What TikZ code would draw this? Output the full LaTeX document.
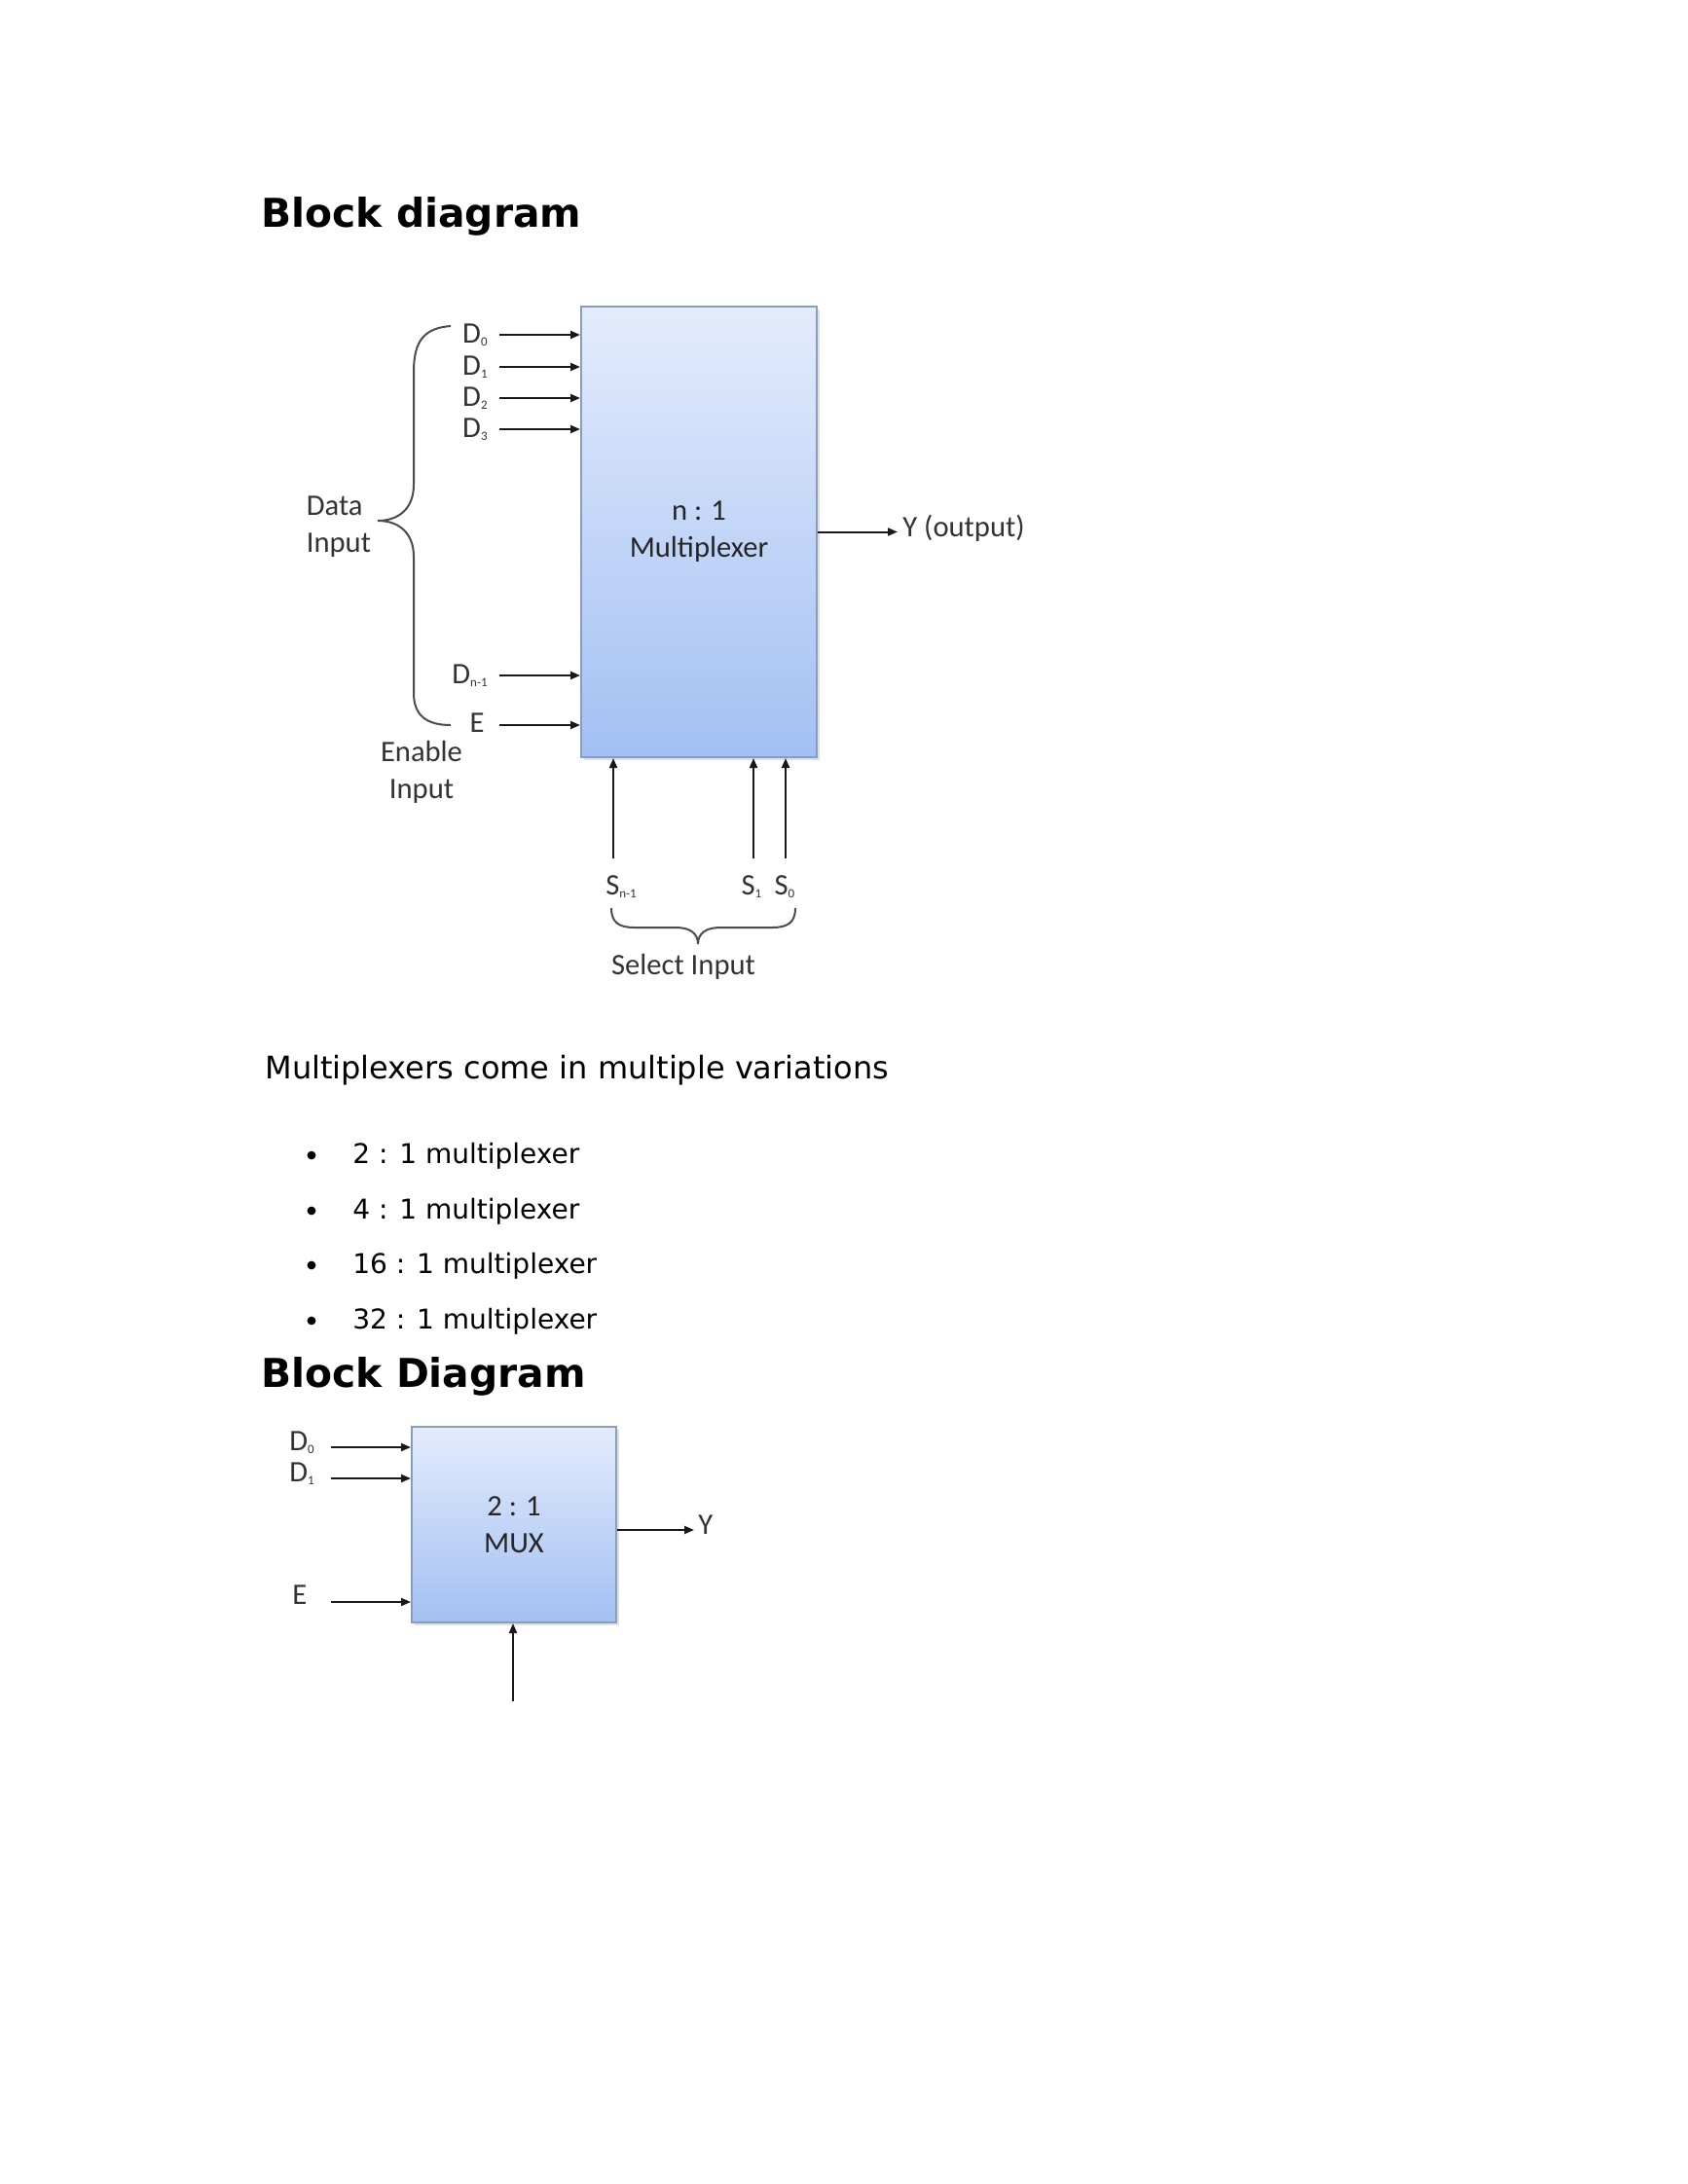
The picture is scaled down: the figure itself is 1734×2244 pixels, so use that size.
\documentclass[tikz,border=0pt]{standalone}
\usepackage{fontspec}
\setmainfont{DejaVu Sans}
\newfontfamily\lblfont{Carlito}
\usetikzlibrary{arrows.meta}
\definecolor{boxtop}{HTML}{E3ECFC}
\definecolor{boxbot}{HTML}{A3C0F3}
\definecolor{boxline}{HTML}{8A9DBD}
\definecolor{lblcol}{HTML}{333333}
\newcommand{\sbs}[1]{\raisebox{-1.5pt}{\fontsize{6.5}{7}\selectfont #1}}
\tikzset{
 mux/.style={draw=boxline, line width=1pt, top color=boxtop, bottom color=boxbot, inner sep=0pt, align=center,
   font=\lblfont\fontsize{15.3}{19}\selectfont, text=black!85},
 lbl/.style={inner sep=0pt, font=\lblfont\fontsize{15.3}{19}\selectfont, text=lblcol},
 sig/.style={-{Triangle[length=5pt,width=4pt]}, line width=1pt, draw=black!90},
 brc/.style={line width=1pt, draw=black!70},
 ttl/.style={inner sep=0pt, anchor=base west, font=\bfseries\fontsize{20.4}{24}\selectfont},
 bodytxt/.style={inner sep=0pt, anchor=base west, font=\fontsize{16}{19}\selectfont},
 itemtxt/.style={inner sep=0pt, anchor=base west, font=\fontsize{14}{17}\selectfont},
 bul/.style={circle, fill=black, inner sep=0pt, minimum size=4.4pt},
 shadowbox/.style={fill=black!12, draw=none},
}
\begin{document}
\begin{tikzpicture}[x=0.5pt, y=-0.5pt]
\useasboundingbox[fill=white] (0,0) rectangle (1734,2244);

% ---------- first title ----------
\node[ttl] (t1) at (268,233) {Block diagram};

% ---------- n:1 multiplexer ----------
\fill[shadowbox] (600,318) rectangle (842,781);
\node[mux, minimum width=121pt, minimum height=231.5pt] (mux1) at (718,546.5) {n : 1\\Multiplexer};

\coordinate (d0s) at (513,344);
\coordinate (d1s) at (513,377);
\coordinate (d2s) at (513,409);
\coordinate (d3s) at (513,441);
\coordinate (dns) at (513,694);
\coordinate (es)  at (513,745);
\node[lbl, anchor=east] (d0) at (501,344) {D\sbs{0}};
\node[lbl, anchor=east] (d1) at (501,377) {D\sbs{1}};
\node[lbl, anchor=east] (d2) at (501,409) {D\sbs{2}};
\node[lbl, anchor=east] (d3) at (501,441) {D\sbs{3}};
\node[lbl, anchor=east] (dn) at (501,694) {D\sbs{n-1}};
\node[lbl, anchor=east] (en) at (498,743) {E};
\foreach \c in {d0s,d1s,d2s,d3s,dns,es}
  \draw[sig] (\c) -- (\c -| mux1.west);

\draw[brc] (463,335) .. controls (436,337) and (425,350) .. (425,382)
  -- (425,498) .. controls (425,524) and (408,535) .. (388,535)
  .. controls (408,535) and (425,546) .. (425,572)
  -- (425,712) .. controls (425,735) and (438,745) .. (463,745);
\node[lbl, align=left] (datain) at (348,541) {Data\\Input};
\node[lbl, align=center] (enin) at (433,793) {Enable\\Input};

\coordinate (yout) at (922,546.5);
\draw[sig] (mux1.east) -- (yout);
\node[lbl, anchor=base west] (ylab) at (927,551) {Y (output)};

\coordinate (sn) at (630,882);
\coordinate (s1) at (774,882);
\coordinate (s0) at (807,882);
\foreach \c in {sn,s1,s0}
  \draw[sig] (\c) -- (\c |- mux1.south);
\node[lbl] (snl) at (638,911) {S\sbs{n-1}};
\node[lbl] (s1l) at (772,911) {S\sbs{1}};
\node[lbl] (s0l) at (806,911) {S\sbs{0}};
\draw[brc] (628,933) .. controls (628,948) and (636,953) .. (652,953)
  -- (694,953) .. controls (709,953) and (717,959) .. (717,970)
  .. controls (717,959) and (725,953) .. (740,953)
  -- (793,953) .. controls (809,953) and (817,948) .. (817,933);
\node[lbl] (selin) at (702,993) {Select Input};

% ---------- text ----------
\node[bodytxt] (para) at (272,1108) {Multiplexers come in multiple variations};
\node[bul] (b1) at (320,1187) {};
\node[bul] (b2) at (320,1244) {};
\node[bul] (b3) at (320,1300) {};
\node[bul] (b4) at (320,1357) {};
\node[itemtxt] (i1) at (362,1195) {2 : 1 multiplexer};
\node[itemtxt] (i2) at (362,1252) {4 : 1 multiplexer};
\node[itemtxt] (i3) at (362,1308) {16 : 1 multiplexer};
\node[itemtxt] (i4) at (362,1365) {32 : 1 multiplexer};

% ---------- second title ----------
\node[ttl] (t2) at (268,1425) {Block Diagram};

% ---------- 2:1 MUX ----------
\fill[shadowbox] (426,1469) rectangle (636,1670);
\node[mux, minimum width=105pt, minimum height=100.5pt] (mux2) at (528,1566.5) {2 : 1\\MUX};
\coordinate (e0s) at (340,1487);
\coordinate (e1s) at (340,1519);
\coordinate (ees) at (340,1646);
\foreach \c in {e0s,e1s,ees}
  \draw[sig] (\c) -- (\c -| mux2.west);
\node[lbl, anchor=base west] (m0) at (297,1490) {D\sbs{0}};
\node[lbl, anchor=base west] (m1) at (297,1522) {D\sbs{1}};
\node[lbl, anchor=base west] (me) at (300,1648) {E};
\coordinate (y2) at (713,1572);
\draw[sig] (y2 -| mux2.east) -- (y2);
\node[lbl, anchor=base west] (y2l) at (717,1576) {Y};
\coordinate (sel2) at (527,1748);
\draw[sig] (sel2) -- (sel2 |- mux2.south);
\end{tikzpicture}
\end{document}
